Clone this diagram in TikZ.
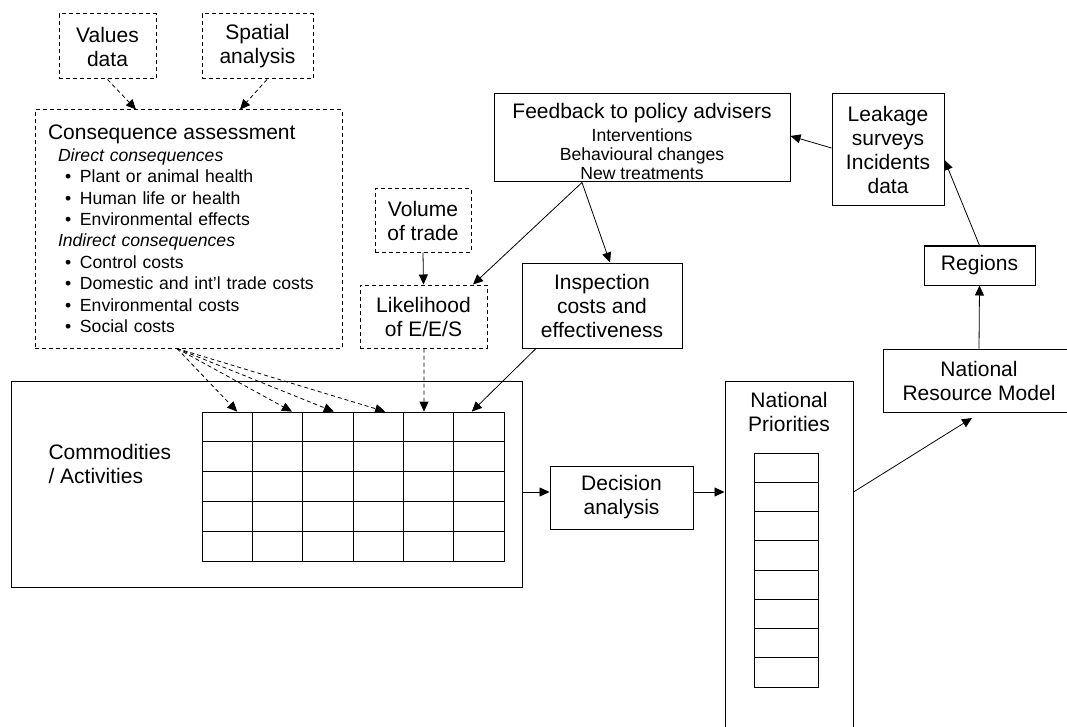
\documentclass[tikz,border=0pt]{standalone}
\usepackage{fontspec}
\setmainfont{Liberation Sans}
\usetikzlibrary{arrows.meta}
\newcommand{\bigtxt}{\fontsize{21}{24}\selectfont}
\newcommand{\smalltxt}{\fontsize{17.6}{21.4}\selectfont}
\newcommand{\itm}{\hspace*{17pt}\makebox[15pt][l]{\textbullet}}

\begin{document}
\begin{tikzpicture}[x=1pt,y=-1pt,line width=1pt,
    >={Triangle[length=10pt,width=9pt]},
    box/.style={draw,rectangle,inner sep=0pt,align=center,font=\bigtxt},
    dbox/.style={box,dash pattern=on 4pt off 3pt},
    cell/.style={draw,rectangle,inner sep=0pt,line width=0.8pt}]
  \useasboundingbox (0,0) rectangle (1067,727);

  % inputs to the table
  \node[dbox,minimum width=97pt,minimum height=65pt] (vals) at (107.5,46.5) {Values\\data};
  \node[dbox,minimum width=111pt,minimum height=65pt] (spat) at (257.5,46.5) {Spatial\\analysis};
  \node[dbox,font=\smalltxt,align=left,text width=281pt,inner xsep=13pt,
        minimum width=307pt,minimum height=238pt] (cons) at (188.5,229)
    {{\bigtxt Consequence assessment}\\
     \hspace*{10pt}\textit{Direct consequences}\\
     \itm Plant or animal health\\
     \itm Human life or health\\
     \itm Environmental effects\\
     \hspace*{10pt}\textit{Indirect consequences}\\
     \itm Control costs\\
     \itm Domestic and int’l trade costs\\
     \itm Environmental costs\\
     \itm Social costs};
  \node[dbox,minimum width=96pt,minimum height=63pt] (vol) at (423,220.5) {Volume\\of trade};
  \node[dbox,minimum width=127pt,minimum height=63pt] (lik) at (423.5,316.5) {Likelihood\\of E/E/S};
  \node[box,font={\fontsize{17.6}{19}\selectfont},minimum width=296pt,minimum height=88pt] (feed) at (642,138)
    {{\bigtxt\rule{0pt}{22pt}Feedback to policy advisers}\\[3.7pt]
     Interventions\\Behavioural changes\\New treatments};
  \node[box,minimum width=160pt,minimum height=85pt] (insp) at (602,305.5) {Inspection\\costs and\\effectiveness};
  \node[box,minimum width=112pt,minimum height=112pt] (leak) at (888,150) {Leakage\\surveys\\Incidents\\data};
  \node[box,minimum width=111pt,minimum height=39pt] (reg) at (979.5,265.5) {Regions};
  \node[box,minimum width=192pt,minimum height=63pt] (nrm) at (979,380.5) {National\\Resource Model};

  % commodities table
  \node[box,minimum width=511pt,minimum height=206pt] (comm) at (266.5,484) {};
  \node[align=left,font=\bigtxt,inner sep=0pt,anchor=north west] (commtxt) at (48,443.7) {Commodities\\/ Activities};
  \foreach \i in {1,...,6}
    \foreach \j in {1,...,5}
      \node[cell,minimum width=50.33pt,minimum height=29.8pt] (g\i\j) at ({202+50.33*(\i-0.5)},{412+29.8*(\j-0.5)}) {};
  \coordinate (in1) at ([xshift=10pt]g11.north);
  \coordinate (in2) at ([xshift=14.5pt]g21.north);
  \coordinate (in3) at ([xshift=6pt]g31.north);
  \coordinate (in4) at ([xshift=7pt]g41.north);
  \coordinate (in5) at ([xshift=-4.5pt]g51.north);
  \coordinate (in6) at ([xshift=-7pt]g61.north);
  \coordinate (fan) at ([xshift=-11.5pt]cons.south);

  \node[box,minimum width=143pt,minimum height=63pt] (dec) at (621.5,497.5) {Decision\\analysis};
  \coordinate (dl) at ([yshift=5.5pt]dec.west);

  % national priorities
  \node[box,minimum width=128pt,minimum height=379pt] (np) at (789,570.5) {};
  \node[align=center,font=\bigtxt,inner sep=0pt,anchor=north] (nplbl) at (789,391.7) {National\\Priorities};
  \foreach \k in {1,...,8}
    \node[cell,minimum width=64pt,minimum height=29.25pt] (p\k) at (786,{453+29.25*(\k-0.5)}) {};

  \begin{scope}[every edge/.style={draw,line width=0.8pt}]
    \path[->,dash pattern=on 4pt off 3pt] (vals.south) edge ([xshift=-52.5pt]cons.north);
    \path[->,dash pattern=on 4pt off 3pt] ([xshift=9.5pt]spat.south) edge ([xshift=51.5pt]cons.north);
    \path[->,dash pattern=on 4pt off 3pt] (fan) edge (in1);
    \path[->,dash pattern=on 4pt off 3pt] (fan) edge (in2);
    \path[->,dash pattern=on 4pt off 3pt] (fan) edge (in3);
    \path[->,dash pattern=on 4pt off 3pt] (fan) edge (in4);
    \path[->,dash pattern=on 4pt off 3pt] ([xshift=0.5pt]lik.south) edge (in5);
    \path[->] (vol.south) edge (lik.north);
    \path[->] ([xshift=-66pt]insp.south) edge (in6);
    \path[->] ([xshift=-60pt]feed.south) edge ([xshift=49.5pt]lik.north);
    \path[->] ([xshift=-60pt]feed.south) edge ([xshift=8pt]insp.north);
    \path[->] ([yshift=2pt]leak.west) edge ([yshift=2pt]feed.east);
    \path[->] (reg.north) edge ([yshift=-10pt]leak.east);
    \path[->] (nrm.north) edge (reg.south);
    \path[->] (comm.east |- dl) edge (dl);
    \path[->] (dec.east |- dl) edge (np.west |- dl);
    \path[->] (np.east |- dl) edge ([xshift=-7pt,yshift=-5.5pt]nrm.south);
  \end{scope}
\end{tikzpicture}
\end{document}
